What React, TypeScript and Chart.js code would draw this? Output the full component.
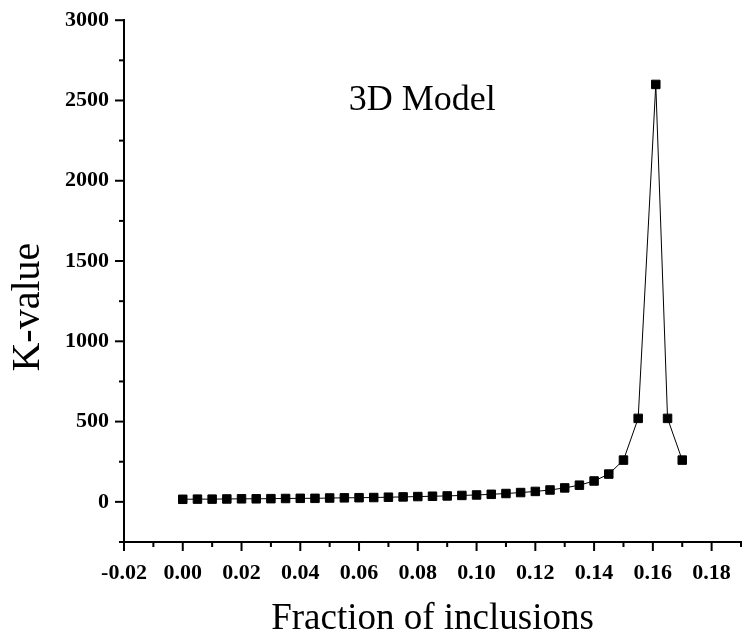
import React, { useEffect, useRef } from "react";
import { Chart, registerables } from "chart.js";

Chart.register(...registerables);

const fractions = [
  0, 0.005, 0.01, 0.015, 0.02, 0.025, 0.03, 0.035, 0.04, 0.045, 0.05, 0.055,
  0.06, 0.065, 0.07, 0.075, 0.08, 0.085, 0.09, 0.095, 0.1, 0.105, 0.11, 0.115,
  0.12, 0.125, 0.13, 0.135, 0.14, 0.145, 0.15, 0.155, 0.161, 0.165, 0.17,
];
const kValues = [
  16, 17, 17, 18, 19, 19, 20, 21, 22, 22, 24, 25, 26, 27, 29, 31, 33, 35, 37,
  40, 43, 47, 52, 58, 65, 74, 87, 104, 130, 173, 260, 520, 2600, 520, 260,
];
const xRange = { min: -0.02, max: 0.19, step: 0.01 };
const yRange = { min: -250, max: 3000, step: 250 };
const xTitle = "Fraction of inclusions";
const yTitle = "K-value";
const annotation = { text: "3D Model", x: 0.0815, y: 2500 };

const SERIF = "'Liberation Serif', 'Times New Roman', serif";

const tickMarks = {
  id: "tickMarks",
  afterDraw(chart: any) {
    const ctx = chart.ctx;
    const xs = chart.scales.x;
    const ys = chart.scales.y;
    const area = chart.chartArea;
    ctx.save();
    ctx.strokeStyle = "#000";
    ctx.lineWidth = 2;
    for (const t of xs.ticks) {
      const px = xs.getPixelForValue(t.value);
      const major = Math.round(t.value * 100) % 2 === 0;
      const len = major ? 9 : 5;
      ctx.beginPath();
      ctx.moveTo(px, xs.top);
      ctx.lineTo(px, xs.top + len);
      ctx.stroke();
    }
    for (const t of ys.ticks) {
      const py = ys.getPixelForValue(t.value);
      const major = Math.round(t.value) % 500 === 0;
      const len = major ? 9 : 5;
      ctx.beginPath();
      ctx.moveTo(ys.right, py);
      ctx.lineTo(ys.right - len, py);
      ctx.stroke();
    }
    ctx.fillStyle = "#000";
    ctx.textAlign = "center";
    ctx.textBaseline = "middle";
    // annotation text
    ctx.font = `36px ${SERIF}`;
    ctx.fillText(
      annotation.text,
      xs.getPixelForValue(annotation.x),
      ys.getPixelForValue(annotation.y)
    );
    // y axis title (placed slightly below the axis centre, as in the source)
    ctx.font = `40px ${SERIF}`;
    ctx.translate(ys.left + 28, (area.top + area.bottom) / 2 + 26);
    ctx.rotate(-Math.PI / 2);
    ctx.fillText(yTitle, 0, 0);
    ctx.restore();
  },
};

const CANVAS_W = 748;
const CANVAS_H = 636;

export default function App() {
  const ref = useRef<HTMLCanvasElement | null>(null);
  useEffect(() => {
    if (!ref.current) return;
    const chart = new Chart(ref.current, {
      type: "line",
      data: {
        datasets: [
          {
            data: fractions.map((f, i) => ({ x: f, y: kValues[i] })),
            borderColor: "#000",
            borderWidth: 1,
            backgroundColor: "#000",
            pointStyle: "rect",
            pointRadius: 6,
            pointBorderWidth: 1,
            pointBorderColor: "#000",
            pointBackgroundColor: "#000",
            tension: 0,
          },
        ],
      },
      options: {
        animation: false,
        responsive: false,
        maintainAspectRatio: false,
        layout: { padding: { top: 10, right: 0, left: 0, bottom: 0 } },
        plugins: { legend: { display: false }, tooltip: { enabled: false } },
        scales: {
          x: {
            type: "linear",
            min: xRange.min,
            max: xRange.max,
            afterBuildTicks(scale: any) {
              const ticks = [];
              const n = Math.round((xRange.max - xRange.min) / xRange.step);
              for (let i = 0; i <= n; i++) {
                ticks.push({ value: +(xRange.min + i * xRange.step).toFixed(4) });
              }
              scale.ticks = ticks;
            },
            afterFit(scale: any) {
              scale.height = 94;
              scale.paddingRight = 0;
            },
            grid: { display: false },
            border: { display: true, color: "#000", width: 2 },
            ticks: {
              autoSkip: false,
              maxRotation: 0,
              padding: 10,
              color: "#000",
              font: { family: SERIF, size: 22, weight: "bold" },
              callback: (v: any) => {
                const r = Math.round(Number(v) * 100);
                return r % 2 === 0 ? (r / 100).toFixed(2) : "";
              },
            },
            title: {
              display: true,
              text: xTitle,
              color: "#000",
              font: { family: SERIF, size: 37, lineHeight: 1 },
              padding: { top: 0, bottom: -2 },
            },
          },
          y: {
            type: "linear",
            min: yRange.min,
            max: yRange.max,
            ticks: {
              stepSize: yRange.step,
              autoSkip: false,
              padding: 7,
              color: "#000",
              font: { family: SERIF, size: 22, weight: "bold" },
              callback: (v: any) => (Math.round(Number(v)) % 500 === 0 ? String(v) : ""),
            },
            afterFit(scale: any) {
              scale.width = 124;
            },
            grid: { display: false },
            border: { display: true, color: "#000", width: 2 },
            title: { display: false },
          },
        },
      },
      plugins: [tickMarks],
    } as any);
    return () => chart.destroy();
  }, []);
  return (
    <div
      style={{
        position: "fixed",
        left: 0,
        top: 0,
        width: 742,
        height: 636,
        overflow: "hidden",
        background: "#fff",
      }}
    >
      <canvas
        ref={ref}
        width={CANVAS_W}
        height={CANVAS_H}
        style={{ width: CANVAS_W, height: CANVAS_H, display: "block" }}
      />
    </div>
  );
}
